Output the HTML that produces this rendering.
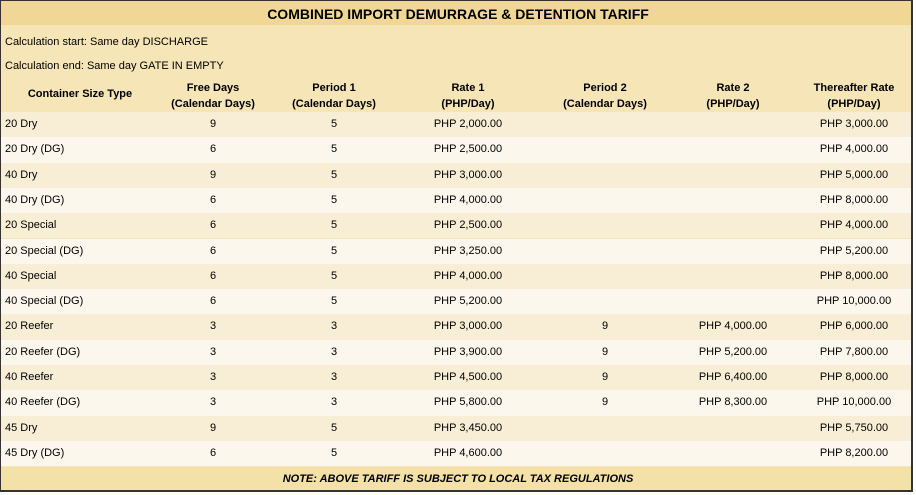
<!DOCTYPE html><html><head><style>
body{margin:0;width:916px;height:495px;background:#fff;font-family:"Liberation Sans",sans-serif;font-size:11px;color:#000;position:relative;overflow:hidden}
.box{position:absolute;left:0;top:0;width:910px;height:489px;border:1px solid #333;border-right:2px solid #333;border-bottom:2px solid #333;background:#f5e5b7}
.r{position:absolute;left:1px;width:910px}
.c{position:absolute;text-align:center;white-space:nowrap}
.h{font-weight:bold}
</style></head><body>
<div class="box"></div>
<div class="r" style="top:1px;height:24px;background:#f0d796"></div>
<div class="c h" style="left:0;width:916px;top:6px;font-size:14px">COMBINED IMPORT DEMURRAGE &amp; DETENTION TARIFF</div>
<div class="c" style="left:5px;top:36px;text-align:left">Calculation start: Same day DISCHARGE</div>
<div class="c" style="left:5px;top:60px;text-align:left">Calculation end: Same day GATE IN EMPTY</div>
<div class="c h" style="left:20px;width:120px;top:88px">Container Size Type</div>
<div class="c h" style="left:153px;width:120px;top:80px;line-height:16px">Free Days<br>(Calendar Days)</div>
<div class="c h" style="left:274px;width:120px;top:80px;line-height:16px">Period 1<br>(Calendar Days)</div>
<div class="c h" style="left:408px;width:120px;top:80px;line-height:16px">Rate 1<br>(PHP/Day)</div>
<div class="c h" style="left:545px;width:120px;top:80px;line-height:16px">Period 2<br>(Calendar Days)</div>
<div class="c h" style="left:673px;width:120px;top:80px;line-height:16px">Rate 2<br>(PHP/Day)</div>
<div class="c h" style="left:794px;width:120px;top:80px;line-height:16px">Thereafter Rate<br>(PHP/Day)</div>
<div id="rows"></div>
<div class="r" style="top:467px;height:23px;background:#f4e1a8"></div>
<div class="c h" style="left:0;width:916px;top:473px;font-style:italic">NOTE: ABOVE TARIFF IS SUBJECT TO LOCAL TAX REGULATIONS</div>
<script>
var d=[["20 Dry",9,5,"2,000.00","","","3,000.00"],["20 Dry (DG)",6,5,"2,500.00","","","4,000.00"],["40 Dry",9,5,"3,000.00","","","5,000.00"],["40 Dry (DG)",6,5,"4,000.00","","","8,000.00"],["20 Special",6,5,"2,500.00","","","4,000.00"],["20 Special (DG)",6,5,"3,250.00","","","5,200.00"],["40 Special",6,5,"4,000.00","","","8,000.00"],["40 Special (DG)",6,5,"5,200.00","","","10,000.00"],["20 Reefer",3,3,"3,000.00",9,"4,000.00","6,000.00"],["20 Reefer (DG)",3,3,"3,900.00",9,"5,200.00","7,800.00"],["40 Reefer",3,3,"4,500.00",9,"6,400.00","8,000.00"],["40 Reefer (DG)",3,3,"5,800.00",9,"8,300.00","10,000.00"],["45 Dry",9,5,"3,450.00","","","5,750.00"],["45 Dry (DG)",6,5,"4,600.00","","","8,200.00"]];
var h="",cx=[213,334,468,605,733,854];
d.forEach(function(r,i){var t=112+i*25.3;
h+='<div class="r" style="top:'+t+'px;height:25.3px;background:'+(i%2?'#fcf7ec':'#f8eed6')+'"></div>';
h+='<div class="c" style="left:5px;top:'+(t+6)+'px">'+r[0]+'</div>';
for(var j=1;j<7;j++){var v=r[j];if(v==="")continue;if(j==3||j==5||j==6)v="PHP "+v;
h+='<div class="c" style="left:'+(cx[j-1]-60)+'px;width:120px;top:'+(t+6)+'px">'+v+'</div>';}
});
document.getElementById("rows").innerHTML=h;
</script>
</body></html>
